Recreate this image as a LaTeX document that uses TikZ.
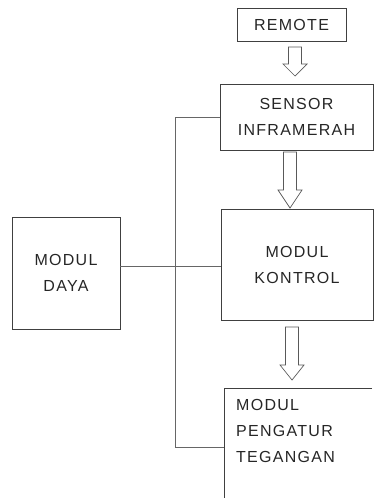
\documentclass[tikz,border=0pt]{standalone}
\usepackage{fontspec}
\setmainfont{Liberation Sans}[LetterSpace=8]
\begin{document}
\begin{tikzpicture}[x=1pt,y=-1pt,
  box/.style={draw=black!75,line width=0.8pt,inner sep=0pt,font=\fontsize{16}{26}\selectfont,text=black!85,align=center},
  wire/.style={draw=black!60,line width=0.6pt},
  blk/.style={draw=black!65,line width=0.7pt,fill=white,line join=miter}]
\useasboundingbox (0,0) rectangle (373,498);
% boxes
\node[box,minimum width=109pt,minimum height=33pt] (remote) at (291.5,24.5) {REMOTE};
\node[box,minimum width=153pt,minimum height=66pt] (sensor) at (296.5,117) {SENSOR\\INFRAMERAH};
\node[box,minimum width=152pt,minimum height=111pt] (kontrol) at (297,264.5) {MODUL\\KONTROL};
\node[box,minimum width=108pt,minimum height=112pt] (daya) at (66,273) {MODUL\\DAYA};
\draw[draw=black!75,line width=0.8pt] (372,388) -- (224,388) -- (224,500);
\node[inner sep=0pt,anchor=north west,align=left,font=\fontsize{16}{26}\selectfont,text=black!85] (peng) at (236,399) {MODUL\\PENGATUR\\TEGANGAN};
\coordinate (pw) at (224,447);
% block arrows
\newcommand{\blkarrow}[4]{% x center, y top, y shaftend, y tip
  \draw[blk] (#1-6.5,#2) -- (#1+6.5,#2) -- (#1+6.5,#3) -- (#1+12,#3) -- (#1,#4) -- (#1-12,#3) -- (#1-6.5,#3) -- cycle;}
\blkarrow{295}{47}{64}{76}
\blkarrow{290}{152}{190}{208}
\blkarrow{292}{327}{365}{380}
% wires
\coordinate (top) at (175,117);
\coordinate (bot) at (175,447);
\coordinate (mid) at (175,266);
\draw[wire] (sensor.west |- top) -- (top) -- (bot) -- (pw);
\draw[wire] (daya.east |- mid) -- (kontrol.west |- mid);
\end{tikzpicture}
\end{document}
